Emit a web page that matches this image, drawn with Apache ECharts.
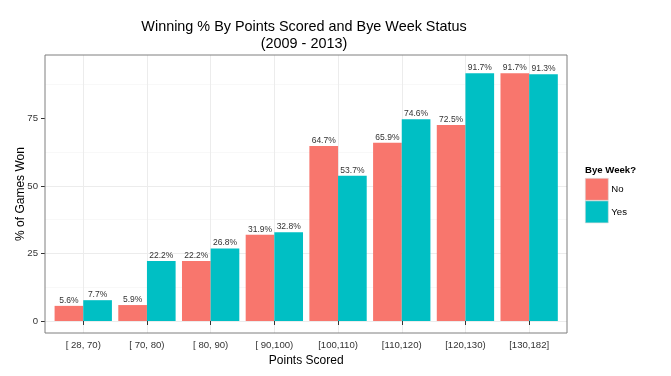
<!DOCTYPE html>
<html><head><meta charset="utf-8">
<script src="https://cdn.jsdelivr.net/npm/echarts@6/dist/echarts.min.js"></script>
<style>html,body{margin:0;padding:0;background:#fff}#c{width:671px;height:376px}</style>
</head><body><div id="c"></div>
<script>
const categories = ['[ 28, 70)','[ 70, 80)','[ 80, 90)','[ 90,100)','[100,110)','[110,120)','[120,130)','[130,182]'];
const noValues = [5.6, 5.9, 22.2, 31.9, 64.7, 65.9, 72.5, 91.7];
const yesValues = [7.7, 22.2, 26.8, 32.8, 53.7, 74.6, 91.7, 91.3];
const yTicks = [0, 25, 50, 75];
const seriesNames = ['No', 'Yes'];

const FONT = 'Liberation Sans, Arial, sans-serif';
const chart = echarts.init(document.getElementById('c'), null, {renderer: 'canvas'});
const pxPerUnit = 2.703;
const zeroY = 321;
const panelTop = 55, panelBottom = 333;
const yTop100 = zeroY - 100 * pxPerUnit;

const lbl = {show: true, position: 'top', distance: 1, fontSize: 8.5, color: '#333', fontFamily: FONT,
  formatter: p => p.value.toFixed(1) + '%'};

chart.setOption({
  animation: false,
  textStyle: {fontFamily: FONT},
  title: [
    {text: 'Winning % By Points Scored and Bye Week Status\n(2009 - 2013)', left: 304, top: 19, padding: 0, textAlign: 'center',
     textStyle: {fontSize: 14.4, fontWeight: 'normal', color: '#000', lineHeight: 17, fontFamily: FONT}},
    {text: 'Bye Week?', left: 585, top: 165, padding: 0, textStyle: {fontSize: 9.6, fontWeight: 'bold', color: '#000', fontFamily: FONT}}
  ],
  legend: {orient: 'vertical', left: 585, top: 178, padding: 0, itemWidth: 23, itemHeight: 22, itemGap: 0, icon: 'rect',
    data: seriesNames, itemStyle: {borderColor: '#d9d9d9', borderWidth: 0.6},
    textStyle: {fontSize: 9.6, color: '#000', fontFamily: FONT, padding: [0, 0, 0, -2]}},
  grid: [
    {left: 45, top: panelTop, width: 522, height: panelBottom - panelTop, show: true, borderColor: '#7f7f7f', borderWidth: 1, backgroundColor: 'transparent', containLabel: false, z: 3},
    {left: 45, top: yTop100, width: 522, height: zeroY - yTop100, containLabel: false},
    {left: 51.4, top: panelTop, width: 509.6, height: panelBottom - panelTop, containLabel: false}
  ],
  xAxis: [
    {gridIndex: 0, type: 'value', show: false, min: 0, max: 1},
    {gridIndex: 1, type: 'value', show: false, min: 0, max: 1},
    {gridIndex: 2, type: 'category', data: categories, position: 'bottom',
     name: 'Points Scored', nameLocation: 'middle', nameGap: 21,
     nameTextStyle: {fontSize: 12, color: '#000', fontFamily: FONT},
     axisLine: {show: false},
     axisTick: {show: true, alignWithLabel: true, length: 4, inside: false, lineStyle: {color: '#333'}},
     axisLabel: {fontSize: 9.6, color: '#333', margin: 7, fontFamily: FONT, interval: 0},
     splitLine: {show: true, alignWithLabel: true, lineStyle: {color: '#ececec', width: 1}}}
  ],
  yAxis: [
    {gridIndex: 0, type: 'value', min: 0, max: 1, show: true,
     axisLine: {show: false}, axisTick: {show: false}, axisLabel: {show: false}, splitLine: {show: false},
     name: '% of Games Won', nameLocation: 'middle', nameGap: 18,
     nameTextStyle: {fontSize: 12, color: '#000', fontFamily: FONT}},
    {gridIndex: 1, type: 'value', min: 0, max: 100, interval: 25,
     axisLine: {show: false},
     axisTick: {show: true, length: 4, customValues: yTicks, lineStyle: {color: '#333'}},
     axisLabel: {fontSize: 9.6, color: '#333', margin: 7, customValues: yTicks, fontFamily: FONT},
     splitLine: {show: true, showMaxLine: false, lineStyle: {color: '#ececec'}},
     minorTick: {show: false, splitNumber: 2},
     minorSplitLine: {show: true, lineStyle: {color: '#f8f8f8'}}},
    {gridIndex: 2, type: 'value', show: false,
     min: -(panelBottom - zeroY) / pxPerUnit, max: (zeroY - panelTop) / pxPerUnit}
  ],
  series: [
    {name: seriesNames[0], type: 'bar', xAxisIndex: 2, yAxisIndex: 2, data: noValues, barWidth: '45%', barGap: '0%',
     itemStyle: {color: '#F8766D'}, label: lbl},
    {name: seriesNames[1], type: 'bar', xAxisIndex: 2, yAxisIndex: 2, data: yesValues, barWidth: '45%', barGap: '0%',
     itemStyle: {color: '#00BFC4'}, label: lbl}
  ]
});
</script></body></html>
